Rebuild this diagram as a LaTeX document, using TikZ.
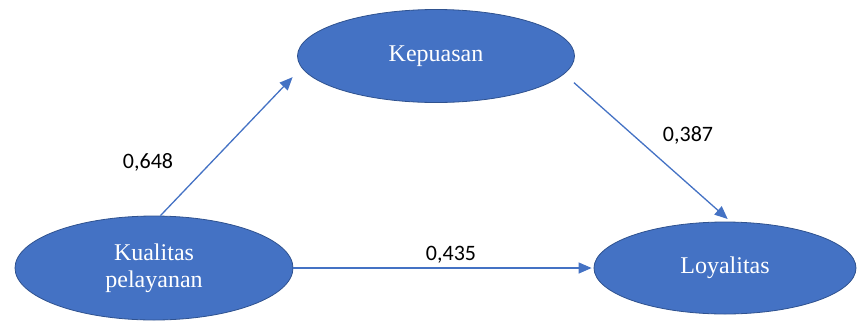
\documentclass[tikz,border=0pt]{standalone}
\usepackage{fontspec}
\setmainfont{Liberation Serif}
\newfontfamily\numfont{Carlito}
\usetikzlibrary{shapes.geometric,arrows.meta}
\definecolor{nodeblue}{HTML}{4472C4}
\definecolor{edgeblue}{HTML}{2F528F}
\begin{document}
\begin{tikzpicture}[x=1pt,y=-1pt,
  var/.style={ellipse,fill=nodeblue,draw=edgeblue,line width=0.8pt,inner sep=0pt,
    text=white,font=\fontsize{24}{27}\selectfont,align=center},
  path/.style={draw=nodeblue,line width=1.3pt,-{Triangle[length=13pt,width=11pt]}},
  coef/.style={font=\numfont\fontsize{22}{24}\selectfont,text=black}]
\useasboundingbox (0,0) rectangle (857,322);
\node[var,minimum width=277pt,minimum height=93pt] (kep) at (436,56) {Kepuasan};
\node[var,minimum width=278pt,minimum height=104pt] (kual) at (154,268) {Kualitas\\pelayanan};
\node[var,minimum width=262pt,minimum height=92pt] (loy) at (725,268) {Loyalitas};
\draw[path,shorten >=13pt] (kual.83) -- (kep.185);
\draw[path,shorten <=13pt,shorten >=4pt] (kep.352) -- (loy.83);
\draw[path,shorten >=2pt] (kual.east) -- (loy.west);
\node[coef] (c1) at (148,162) {0,648};
\node[coef] (c2) at (688,135) {0,387};
\node[coef] (c3) at (451,255) {0,435};
\end{tikzpicture}
\end{document}
